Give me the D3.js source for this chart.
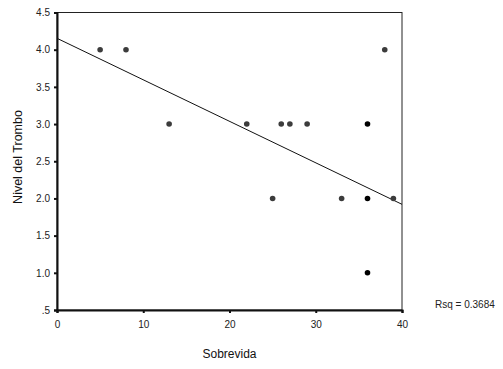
<!DOCTYPE html>
<html>
<head>
<meta charset="utf-8">
<script src="https://cdn.jsdelivr.net/npm/d3@7"></script>
<style>
  body { margin: 0; background: #fff; }
  svg { display: block; font-family: "Liberation Sans", Arial, sans-serif; }
</style>
</head>
<body>
<div id="chart"></div>
<script>
// data
const sobrevida = [5, 8, 13, 22, 25, 26, 27, 29, 33, 36, 36, 36, 38, 39];
const nivel     = [4, 4, 3, 3, 2, 3, 3, 3, 2, 3, 2, 1, 4, 2];
const casos     = [1, 1, 1, 1, 1, 1, 1, 1, 1, 3, 3, 2, 1, 1];
const xTicks = [0, 10, 20, 30, 40];
const yTicks = [0.5, 1, 1.5, 2, 2.5, 3, 3.5, 4, 4.5];
const yTickLabels = [".5", "1.0", "1.5", "2.0", "2.5", "3.0", "3.5", "4.0", "4.5"];
const fitIntercept = 4.153;
const fitSlope = -0.0558;
const rsq = "Rsq = 0.3684";

const width = 503, height = 369;
const plotLeft = 57, plotRight = 402, plotTop = 12.5, plotBottom = 310;

const svg = d3.select("#chart").append("svg")
  .attr("width", width)
  .attr("height", height);

const x = d3.scaleLinear().domain([0, 40]).range([plotLeft, plotRight]);
const y = d3.scaleLinear().domain([0.5, 4.5]).range([plotBottom, plotTop]);

// frame
svg.append("rect")
  .attr("x", plotLeft).attr("y", plotTop)
  .attr("width", plotRight - plotLeft).attr("height", plotBottom - plotTop)
  .attr("fill", "none")
  .attr("stroke", "#222")
  .attr("stroke-width", 1);

const xAxis = svg.append("g")
  .attr("transform", "translate(0," + plotBottom + ")")
  .call(d3.axisBottom(x).tickValues(xTicks).tickSize(3).tickPadding(8).tickFormat(d3.format("d")));

const yAxis = svg.append("g")
  .attr("transform", "translate(" + plotLeft + ",0)")
  .call(d3.axisLeft(y).tickValues(yTicks).tickSize(3).tickPadding(4)
    .tickFormat((d, i) => yTickLabels[i]));

[xAxis, yAxis].forEach(g => {
  g.select(".domain").attr("stroke", "#111").attr("stroke-width", 2);
  g.selectAll(".tick line").attr("stroke", "#111").attr("stroke-width", 2);
  g.selectAll(".tick text")
    .attr("fill", "#222")
    .style("font-size", "10px")
    .style("font-family", "'Liberation Sans', Arial, sans-serif");
});

// regression line
svg.append("line")
  .attr("x1", x(0)).attr("y1", y(fitIntercept))
  .attr("x2", x(40)).attr("y2", y(fitIntercept + fitSlope * 40))
  .attr("stroke", "#111")
  .attr("stroke-width", 1);

// points
svg.selectAll("circle.pt")
  .data(sobrevida.map((d, i) => ({ s: d, n: nivel[i], c: casos[i] })))
  .enter()
  .append("circle")
  .attr("class", "pt")
  .attr("cx", d => x(d.s))
  .attr("cy", d => y(d.n))
  .attr("r", 2.8)
  .attr("fill", d => d.c > 1 ? "#000" : "#3c3c3c");

// titles
svg.append("text")
  .attr("x", (plotLeft + plotRight) / 2)
  .attr("y", 358)
  .attr("text-anchor", "middle")
  .style("font-size", "12px")
  .attr("fill", "#111")
  .text("Sobrevida");

svg.append("text")
  .attr("transform", "translate(22," + 157 + ") rotate(-90)")
  .attr("text-anchor", "middle")
  .style("font-size", "12.5px")
  .attr("fill", "#111")
  .text("Nivel del Trombo");

svg.append("text")
  .attr("x", 435)
  .attr("y", 308)
  .style("font-size", "10px")
  .attr("fill", "#222")
  .text(rsq);
</script>
</body>
</html>
